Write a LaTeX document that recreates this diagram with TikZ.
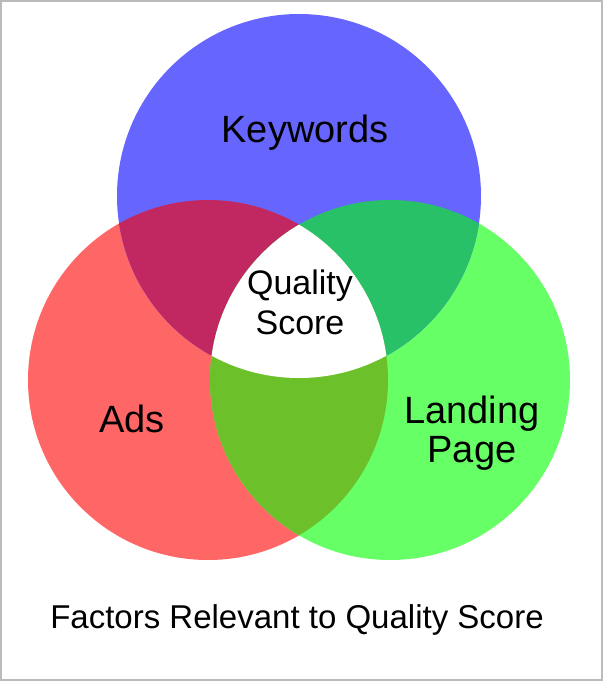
\documentclass[tikz,border=0pt]{standalone}
\usepackage{fontspec}
\setmainfont{Liberation Sans}
\definecolor{cblue}{HTML}{6666FF}
\definecolor{cred}{HTML}{FF6666}
\definecolor{cgreen}{HTML}{66FF66}
\definecolor{crb}{HTML}{C12862}
\definecolor{cbg}{HTML}{28C168}
\definecolor{crg}{HTML}{6CC12A}
\definecolor{cframe}{HTML}{BBBBBB}
\tikzset{
  lbl/.style={font=\fontsize{38}{44}\selectfont, anchor=base, align=center, inner sep=0pt},
  qlbl/.style={font=\fontsize{34}{40}\selectfont, anchor=base, align=center, inner sep=0pt},
  captxt/.style={font=\fontsize{33}{40}\selectfont, anchor=base, inner sep=0pt}
}
\begin{document}
\begin{tikzpicture}[x=1pt,y=-1pt]
\useasboundingbox (0,0) rectangle (603,681);
\fill[white] (0,0) rectangle (603,681);
\coordinate (B) at (299,196);
\coordinate (R) at (208,380);
\coordinate (G) at (390,380);
\def\cB{(B) circle[radius=182pt]}
\def\cR{(R) circle[radius=180pt]}
\def\cG{(G) circle[radius=180pt]}
\fill[cred] \cR;
\fill[cgreen] \cG;
\fill[cblue] \cB;
\begin{scope}
  \clip \cR;
  \fill[crb] \cB;
\end{scope}
\begin{scope}
  \clip \cG;
  \fill[cbg] \cB;
\end{scope}
\begin{scope}
  \clip \cR;
  \fill[crg] \cG;
\end{scope}
\begin{scope}
  \clip \cR;
  \clip \cG;
  \fill[white] \cB;
\end{scope}
\draw[cframe, line width=2pt] (1,1) rectangle (602,680);
\node[lbl] (kw) at (305,142) {Keywords};
\node[qlbl] (qs) at (300,334) {Quality\\Score};
\node[lbl] (ads) at (132,432) {Ads};
\node[lbl, font=\fontsize{38}{39}\selectfont] (lp) at (472,462) {Landing\\Page};
\node[captxt] (cp) at (297,628) {Factors Relevant to Quality Score};
\end{tikzpicture}
\end{document}
